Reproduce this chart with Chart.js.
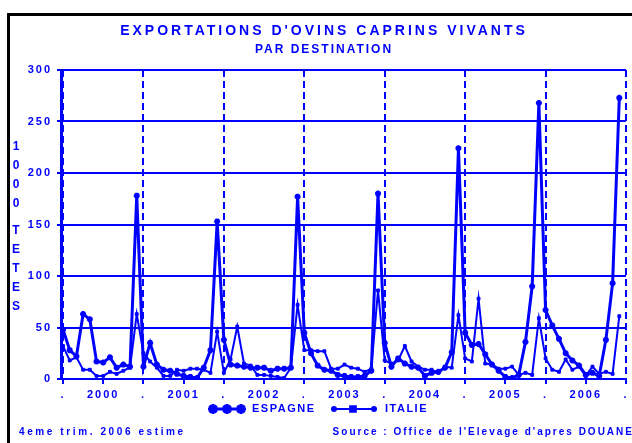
<!DOCTYPE html>
<html>
<head>
<meta charset="utf-8">
<script src="https://cdn.jsdelivr.net/npm/chart.js@4.4.0/dist/chart.umd.min.js"></script>
<style>
  body { margin: 0; width: 632px; height: 443px; overflow: hidden; background: #fff; font-family: "Liberation Sans", Arial, sans-serif; }
  #frame { position: absolute; left: 7px; top: 13px; width: 700px; height: 500px; border-left: 3px solid #000; border-top: 3px solid #000; }
  #wrap { position: absolute; left: 0; top: 0; width: 632px; height: 443px; }
  .txt { position: absolute; color: #0000ff; font-weight: bold; white-space: nowrap; }
  #title { left: 0; width: 648px; top: 22px; text-align: center; font-size: 14px; letter-spacing: 3px; }
  #subtitle { left: 0; width: 648px; top: 42px; text-align: center; font-size: 12px; letter-spacing: 2px; }
  .ytitle { left: 9px; font-size: 12px; writing-mode: vertical-lr; text-orientation: upright; letter-spacing: 5px; }
  #ytitle1 { top: 139px; }
  #ytitle2 { top: 223px; }
  #note { left: 19px; top: 426px; font-size: 10px; letter-spacing: 2.6px; }
  #source { right: -2px; top: 426px; font-size: 10px; letter-spacing: 2px; }
</style>
</head>
<body>
<div id="wrap"><canvas id="chart" width="632" height="443"></canvas></div>
<div id="frame"></div>
<div class="txt" id="title">EXPORTATIONS D'OVINS CAPRINS VIVANTS</div>
<div class="txt" id="subtitle">PAR DESTINATION</div>
<div class="txt ytitle" id="ytitle1">1000</div>
<div class="txt ytitle" id="ytitle2">TETES</div>
<div class="txt" id="note">4eme trim. 2006 estime</div>
<div class="txt" id="source">Source : Office de l'Elevage d'apres DOUANE</div>
<script>
// monthly values, Jan 2000 -> Dec 2006, in 1000 heads
const years = ['2000', '2001', '2002', '2003', '2004', '2005', '2006'];
const espagne = [
  48, 28, 22, 63, 58, 17, 16, 21, 11, 14, 12, 178,
  12, 35, 14, 9, 8, 5, 3, 2, 1, 11, 28, 153,
  38, 14, 13, 12, 11, 11, 11, 8, 10, 10, 11, 177,
  45, 25, 13, 9, 8, 4, 3, 2, 2, 3, 8, 180,
  35, 12, 20, 15, 12, 11, 3, 6, 7, 11, 26, 224,
  45, 33, 34, 24, 14, 8, 2, 1, 4, 36, 90, 268,
  67, 52, 39, 25, 18, 13, 4, 6, 3, 38, 93, 273
];
const italie = [
  32, 18, 21, 9, 9, 3, 3, 7, 5, 8, 11, 63,
  25, 17, 11, 3, 3, 9, 8, 10, 10, 9, 6, 46,
  6, 19, 51, 15, 13, 4, 4, 3, 2, 1, 11, 72,
  28, 28, 27, 27, 10, 10, 14, 11, 10, 7, 10, 86,
  18, 15, 18, 32, 17, 12, 9, 9, 6, 12, 11, 62,
  20, 17, 78, 15, 14, 10, 10, 12, 4, 6, 4, 59,
  20, 9, 7, 19, 9, 12, 3, 12, 5, 7, 5, 61
];
const yTicks = [0, 50, 100, 150, 200, 250, 300];

const BLUE = '#0000ff';

// tick positions every half year: '.' at year start, year label in the middle
const xTicks = [];
for (let v = 0; v <= years.length * 12; v += 6) xTicks.push(v);

function toPoints(arr) {
  return arr.map((v, i) => ({ x: i, y: v }));
}

// spaced-out lettering like the original printout
const spacing = {
  id: 'spacing',
  beforeDraw(chart) {
    chart.ctx.letterSpacing = '2px';
  }
};

// legend drawn by hand: line with three markers, then the name
const legendPlugin = {
  id: 'handLegend',
  afterDraw(chart) {
    const ctx = chart.ctx;
    const y = 409;
    ctx.save();
    ctx.strokeStyle = BLUE;
    ctx.fillStyle = BLUE;
    ctx.lineWidth = 3;
    ctx.beginPath(); ctx.moveTo(212, y); ctx.lineTo(242, y); ctx.stroke();
    [213, 227, 241].forEach(x => {
      Chart.helpers.drawPoint(ctx, { pointStyle: 'star', radius: 5, rotation: 0, borderWidth: 2 }, x, y);
    });
    ctx.lineWidth = 2;
    ctx.beginPath(); ctx.moveTo(331, y); ctx.lineTo(377, y); ctx.stroke();
    Chart.helpers.drawPoint(ctx, { pointStyle: 'circle', radius: 2, rotation: 0, borderWidth: 1 }, 334, y);
    Chart.helpers.drawPoint(ctx, { pointStyle: 'rect', radius: 4, rotation: 0, borderWidth: 1 }, 353, y);
    Chart.helpers.drawPoint(ctx, { pointStyle: 'circle', radius: 2, rotation: 0, borderWidth: 1 }, 374, y);
    ctx.font = 'bold 11px "Liberation Sans", Arial, sans-serif';
    ctx.letterSpacing = '1.5px';
    ctx.textBaseline = 'middle';
    ctx.textAlign = 'left';
    ctx.fillText('ESPAGNE', 252, y);
    ctx.fillText('ITALIE', 385, y);
    ctx.restore();
  }
};

new Chart(document.getElementById('chart'), {
  type: 'line',
  data: {
    datasets: [
      {
        label: 'ESPAGNE',
        data: toPoints(espagne),
        borderColor: BLUE,
        backgroundColor: BLUE,
        borderWidth: 3,
        pointStyle: 'star',
        pointRadius: 3,
        pointBorderWidth: 2,
        tension: 0
      },
      {
        label: 'ITALIE',
        data: toPoints(italie),
        borderColor: BLUE,
        backgroundColor: BLUE,
        borderWidth: 2,
        pointStyle: 'rect',
        pointRadius: 2,
        pointBorderWidth: 1,
        tension: 0
      }
    ]
  },
  options: {
    responsive: false,
    animation: false,
    layout: { padding: { top: 70, left: 0, right: 2, bottom: 0 } },
    plugins: {
      legend: { display: false },
      title: { display: false },
      tooltip: { enabled: false }
    },
    scales: {
      x: {
        type: 'linear',
        min: -0.3,
        max: years.length * 12,
        afterFit(scale) { scale.height = 64; },
        afterBuildTicks(scale) { scale.ticks = xTicks.map(v => ({ value: v })); },
        ticks: {
          color: BLUE,
          padding: 4,
          maxRotation: 0,
          autoSkip: false,
          font: { family: '"Liberation Sans", Arial, sans-serif', size: 11, weight: 'bold' },
          callback: v => (v % 12 === 0 ? '.' : years[Math.floor(v / 12)])
        },
        grid: {
          color: ctx => (ctx.tick && ctx.tick.value % 12 === 0 ? BLUE : 'rgba(0,0,0,0)'),
          lineWidth: 2,
          tickColor: BLUE,
          tickLength: 5,
          tickWidth: 2,
          tickBorderDash: []
        },
        border: { color: BLUE, width: 2, dash: [7, 4] }
      },
      y: {
        min: 0,
        max: 300,
        afterFit(scale) { scale.width = 61; },
        afterBuildTicks(scale) { scale.ticks = yTicks.map(v => ({ value: v })); },
        ticks: {
          color: BLUE,
          padding: 5,
          font: { family: '"Liberation Sans", Arial, sans-serif', size: 11, weight: 'bold' }
        },
        grid: { color: BLUE, lineWidth: 2, tickLength: 4, tickColor: BLUE },
        border: { color: BLUE, width: 3 }
      }
    }
  },
  plugins: [spacing, legendPlugin]
});
</script>
</body>
</html>
